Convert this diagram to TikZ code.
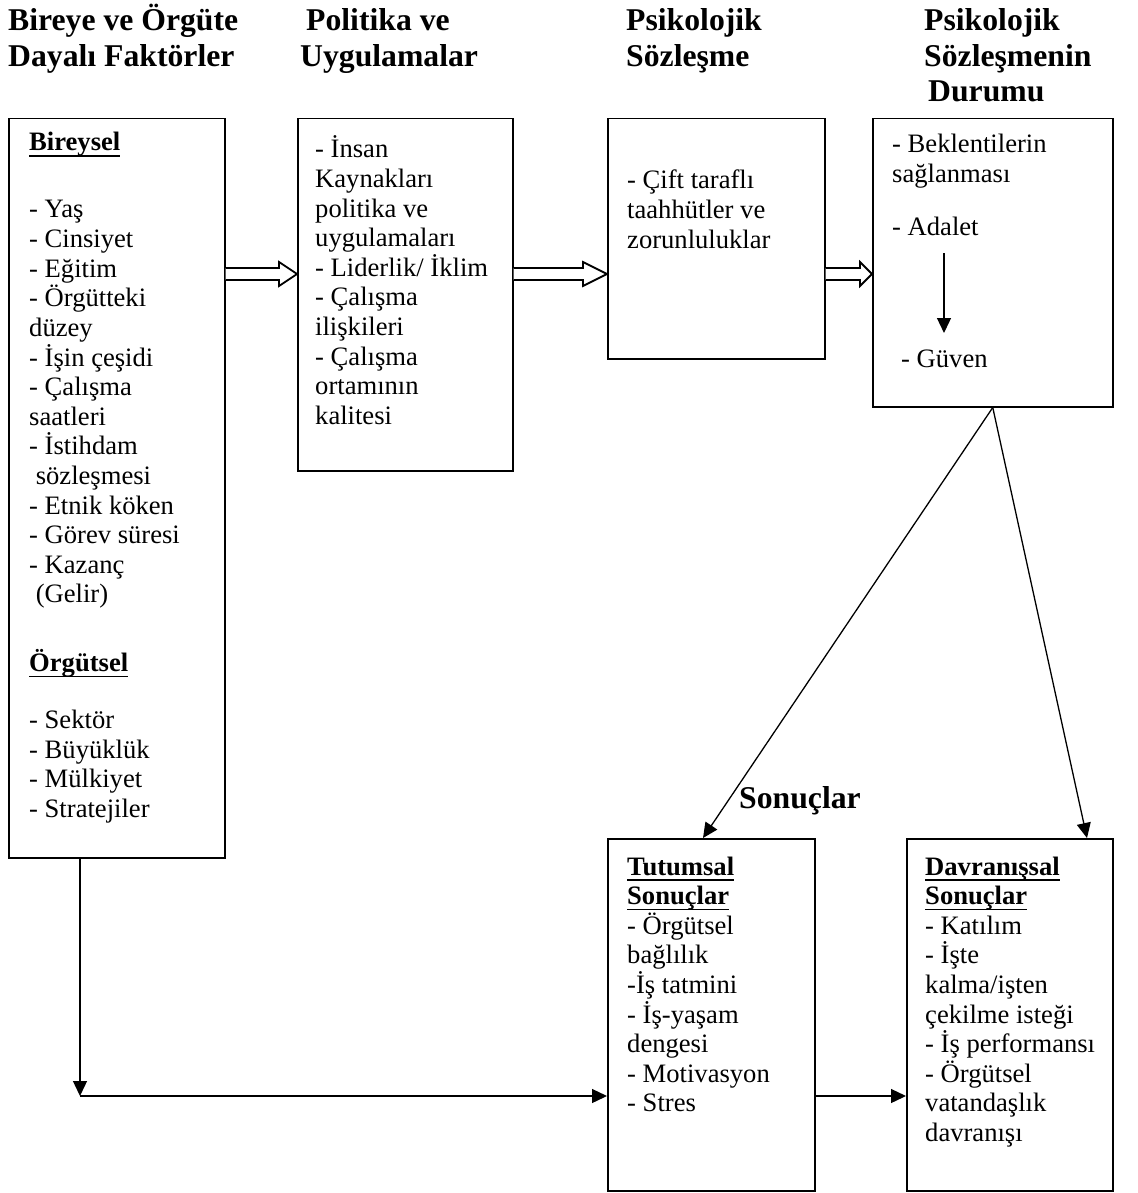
\documentclass[tikz,border=0pt]{standalone}
\usepackage{fontspec}
\setmainfont{Liberation Serif}
\usetikzlibrary{arrows.meta,calc}

% fonts: body text and bold column headings
\newcommand{\bodyfont}{\fontsize{26.6pt}{29.6pt}\selectfont}
\newcommand{\headfont}{\fontsize{31.7pt}{35.5pt}\selectfont\bfseries}

% underline at a fixed depth below the baseline
\newsavebox{\ulbox}
\newcommand{\hdul}[1]{\leavevmode\sbox{\ulbox}{#1}\rlap{\rule[-5.6pt]{\wd\ulbox}{1.5pt}}\usebox{\ulbox}}

% block of left-aligned lines whose first baseline is the node's base
\newcommand{\lines}[2]{\parbox[t]{#1}{\raggedright #2}}

% wide hollow arrow: start, tip, head length
\newcommand{\hollowarrow}[3]{%
  \draw[hollow] ($(#1)+(0,-6)$) -- ($(#2)+(-#3,-6)$) -- ($(#2)+(-#3,-12)$)
    -- (#2) -- ($(#2)+(-#3,12)$) -- ($(#2)+(-#3,6)$) -- ($(#1)+(0,6)$);}

\tikzset{
  box/.style={draw, line width=1.5pt, inner sep=0pt, anchor=north west},
  txt/.style={inner sep=0pt, anchor=base west, font=\bodyfont},
  head/.style={inner sep=0pt, anchor=base west, font=\headfont},
  conn/.style={line width=1.3pt, -{Triangle[length=15pt,width=14pt]}},
  hollow/.style={line width=1.8pt, fill=white, line join=miter},
}

\begin{document}
\begin{tikzpicture}[x=1pt, y=-1pt]
\useasboundingbox (0,0) rectangle (1137,1193);
\fill[white] (0,0) rectangle (1137,1193);

% column headings
\node[head] (h1) at (8,31) {\lines{320pt}{Bireye ve Örgüte\\Dayalı Faktörler}};
\node[head] (h2) at (300,31) {\lines{300pt}{\hspace*{6pt}Politika ve\\Uygulamalar}};
\node[head] (h3) at (626,31) {\lines{300pt}{Psikolojik\\Sözleşme}};
\node[head] (h4) at (924,31) {\lines{300pt}{Psikolojik\\Sözleşmenin\\\hspace*{4pt}Durumu}};
\node[head, anchor=base] (h5) at (800,808) {Sonuçlar};

% boxes
\node[box, minimum width=216pt, minimum height=739pt] (b1) at (8,118) {};
\node[box, minimum width=215pt, minimum height=352pt] (b2) at (297,118) {};
\node[box, minimum width=217pt, minimum height=240pt] (b3) at (607,118) {};
\node[box, minimum width=240pt, minimum height=288pt] (b4) at (872,118) {};
\node[box, minimum width=207pt, minimum height=352pt] (tut) at (607,838) {};
\node[box, minimum width=206pt, minimum height=352pt] (dav) at (906,838) {};

% box contents
\node[txt] (t1) at (29,151) {\lines{195pt}{%
\hdul{\textbf{Bireysel}}\\[37.4pt]
- Yaş\\
- Cinsiyet\\
- Eğitim\\
- Örgütteki\\
düzey\\
- İşin çeşidi\\
- Çalışma\\
saatleri\\
- İstihdam\\
\hspace*{6.6pt}sözleşmesi\\
- Etnik köken\\
- Görev süresi\\
- Kazanç\\
\hspace*{6.6pt}(Gelir)\\[39pt]
\hdul{\textbf{Örgütsel}}\\[27.4pt]
- Sektör\\
- Büyüklük\\
- Mülkiyet\\
- Stratejiler}};

\node[txt] (t2) at (315,158) {\lines{195pt}{%
- İnsan\\
Kaynakları\\
politika ve\\
uygulamaları\\
- Liderlik/ İklim\\
- Çalışma\\
ilişkileri\\
- Çalışma\\
ortamının\\
kalitesi}};

\node[txt] (t3) at (627,189) {\lines{195pt}{%
- Çift taraflı\\
taahhütler ve\\
zorunluluklar}};

\node[txt] (t4a) at (892,153) {\lines{215pt}{- Beklentilerin\\sağlanması}};
\node[txt] (t4b) at (892,235) {- Adalet};
\node[txt] (t4c) at (901,367) {- Güven};

\node[txt] (t5) at (627,875) {\lines{185pt}{%
\hdul{\textbf{Tutumsal}}\\
\hdul{\textbf{Sonuçlar}}\\
- Örgütsel\\
bağlılık\\
-İş tatmini\\
- İş-yaşam\\
dengesi\\
- Motivasyon\\
- Stres}};

\node[txt] (t6) at (925,875) {\lines{185pt}{%
\hdul{\textbf{Davranışsal}}\\
\hdul{\textbf{Sonuçlar}}\\
- Katılım\\
- İşte\\
kalma/işten\\
çekilme isteği\\
- İş performansı\\
- Örgütsel\\
vatandaşlık\\
davranışı}};

% hollow arrows between the top boxes
\coordinate (arow) at (0,274);
\coordinate (a1s) at (b1.east |- arow);
\coordinate (a1e) at (b2.west |- arow);
\coordinate (a2s) at (b2.east |- arow);
\coordinate (a2e) at (b3.west |- arow);
\coordinate (a3s) at (b3.east |- arow);
\coordinate (a3e) at (b4.west |- arow);
\hollowarrow{a1s}{a1e}{18}
\hollowarrow{a2s}{a2e}{24}
\hollowarrow{a3s}{a3e}{12}

% Adalet leads to Güven
\draw[conn] ($(t4b.base west)+(52,18)$) -- ($(t4c.base west)+(43,-34)$);

% outcomes
\coordinate (tx) at (703,0);
\coordinate (dx) at (1087,0);
\draw[conn] (b4.south) -- (tut.north -| tx);
\draw[conn] (b4.south) -- (dav.north -| dx);

\coordinate (elbow) at (80,1096);
\draw[conn] (b1.south -| elbow) -- (elbow);
\draw[conn] (elbow) -- (tut.west |- elbow);
\draw[conn] (tut.east |- elbow) -- (dav.west |- elbow);
\end{tikzpicture}
\end{document}
